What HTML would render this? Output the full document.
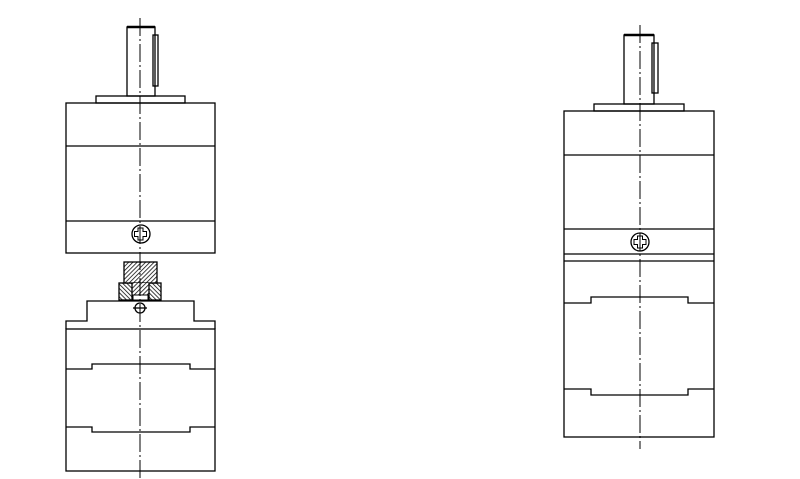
<!DOCTYPE html>
<html><head><style>html,body{margin:0;padding:0;background:#fff;width:800px;height:479px;overflow:hidden}</style></head>
<body>
<svg width="800" height="479" viewBox="0 0 800 479" xmlns="http://www.w3.org/2000/svg">
<defs>
<pattern id="h" patternUnits="userSpaceOnUse" width="3" height="3" patternTransform="rotate(45)">
<rect width="3" height="3" fill="#fff"/><line x1="0" y1="0" x2="0" y2="3" stroke="#000" stroke-width="1.5"/>
</pattern>
<pattern id="h2" patternUnits="userSpaceOnUse" width="3" height="3" patternTransform="rotate(-45)">
<rect width="3" height="3" fill="#fff"/><line x1="0" y1="0" x2="0" y2="3" stroke="#000" stroke-width="1.5"/>
</pattern>
</defs>
<g fill="none" stroke="#000" stroke-width="1.3">
<rect x="127" y="27" width="28" height="69"/>
<line x1="127" y1="27" x2="155" y2="27" stroke-width="2.5"/>
<rect x="153" y="35" width="5" height="51"/>
<rect x="96" y="96" width="89" height="7"/>
<rect x="66" y="103" width="149" height="150"/>
<line x1="66" y1="146" x2="215" y2="146"/>
<line x1="66" y1="221" x2="215" y2="221"/>
<circle cx="141" cy="234" r="9"/>
<path d="M138 228h5v3.5h3.5v5h-3.5v3.5h-5v-3.5h-3.5v-5h3.5z" stroke-width="1"/>
<rect x="119" y="283" width="42" height="17" fill="url(#h2)"/>
<rect x="124" y="262" width="33" height="21" fill="url(#h)"/>
<rect x="132" y="283" width="17" height="12" fill="url(#h)" stroke="none"/>
<rect x="133" y="295" width="15" height="5" fill="#fff" stroke-width="1"/>
<line x1="132" y1="283" x2="132" y2="300"/>
<line x1="149" y1="283" x2="149" y2="300"/>
<circle cx="140" cy="308" r="5"/>
<line x1="133" y1="308" x2="147" y2="308"/>
<path d="M66 329V321H87V301H194V321H215V329"/>
<rect x="66" y="329" width="149" height="142"/>
<path d="M66 369H92V364H190V369H215"/>
<path d="M66 427H92V432H190V427H215"/>
<rect x="624" y="35" width="30" height="69"/>
<line x1="624" y1="35" x2="654" y2="35" stroke-width="2.5"/>
<rect x="652" y="43" width="6" height="50"/>
<rect x="594" y="104" width="90" height="7"/>
<rect x="564" y="111" width="150" height="326"/>
<line x1="564" y1="155" x2="714" y2="155"/>
<line x1="564" y1="229" x2="714" y2="229"/>
<line x1="564" y1="254" x2="714" y2="254"/>
<line x1="564" y1="261" x2="714" y2="261"/>
<circle cx="640" cy="242" r="9"/>
<path d="M637.5 236h5v3.5h3.5v5h-3.5v3.5h-5v-3.5h-3.5v-5h3.5z" stroke-width="1"/>
<path d="M564 303H591V297H688V303H714"/>
<path d="M564 389H591V395H688V389H714"/>
</g>
<g stroke="#000" stroke-width="1" stroke-dasharray="18,3,2,3">
<line x1="140" y1="18" x2="140" y2="479"/>
<line x1="640" y1="25" x2="640" y2="449"/>
</g>
</svg>
</body></html>
